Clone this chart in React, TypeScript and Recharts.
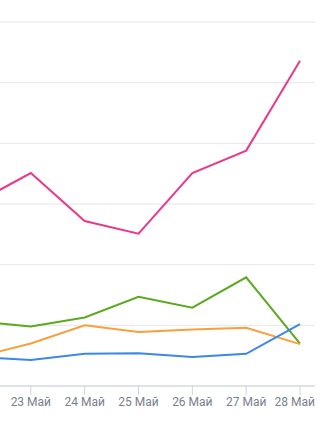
import React from 'react';
import { LineChart, Line, XAxis, YAxis, CartesianGrid } from 'recharts';

const dates = ['22 Май', '23 Май', '24 Май', '25 Май', '26 Май', '27 Май', '28 Май'];
const pinkValues = [303, 351, 272, 251, 351, 388, 536];
const greenValues = [107, 98, 113, 147, 129, 179, 70];
const orangeValues = [48, 70, 100, 89, 93, 96, 69];
const blueValues = [48, 43, 53, 54, 48, 53, 102];
const yTicks = [0, 100, 200, 300, 400, 500, 600];

const data = dates.map((d, i) => ({
  date: d,
  pink: pinkValues[i],
  green: greenValues[i],
  orange: orangeValues[i],
  blue: blueValues[i],
}));

const PLOT_RIGHT = 354;

const Tick = (props: any) => {
  const { x, y, payload, index } = props;
  if (index === 0) return null;
  const isLast = index === dates.length - 1;
  return (
    <text
      x={isLast ? PLOT_RIGHT : x}
      y={y}
      dy="0.71em"
      textAnchor={isLast ? 'end' : 'middle'}
      fill="#7a7f8c"
      fontSize={12}
      fontFamily="Roboto"
    >
      {payload.value}
    </text>
  );
};

export default function App() {
  return (
    <div style={{ position: 'fixed', left: 0, top: 0, width: 336, height: 433, overflow: 'hidden', background: '#fff' }}>
      <div style={{ position: 'absolute', left: -39, top: 0 }}>
        <LineChart
          width={364}
          height={433}
          data={data}
          margin={{ top: 22, right: 364 - PLOT_RIGHT, left: 0, bottom: 17 }}
        >
          <CartesianGrid vertical={false} stroke="#e6e6e6" />
          <XAxis
            dataKey="date"
            padding={{ left: 16, right: 15 }}
            tickSize={9}
            tickMargin={2}
            height={30}
            stroke="#ccd3de"
            tick={<Tick />}
            interval={0}
          />
          <YAxis hide domain={[0, 600]} ticks={yTicks} />
          <Line dataKey="pink" stroke="#e83a8c" strokeWidth={2} dot={false} isAnimationActive={false} />
          <Line dataKey="green" stroke="#5aaa1e" strokeWidth={2} dot={false} isAnimationActive={false} />
          <Line dataKey="orange" stroke="#f7a03c" strokeWidth={2} dot={false} isAnimationActive={false} />
          <Line dataKey="blue" stroke="#3b88e6" strokeWidth={2} dot={false} isAnimationActive={false} />
        </LineChart>
      </div>
    </div>
  );
}
